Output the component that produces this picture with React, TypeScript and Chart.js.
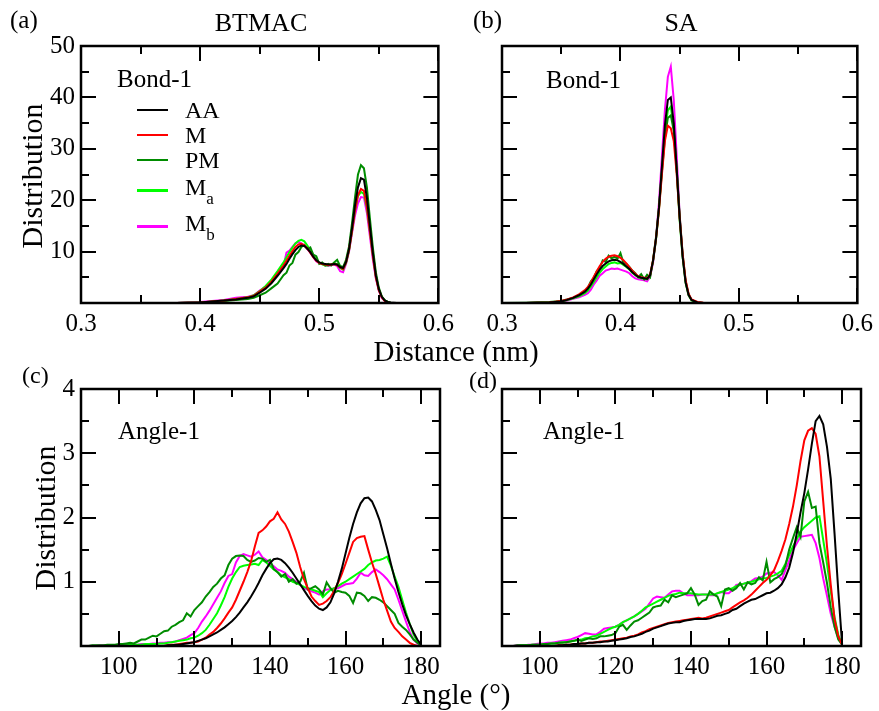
import React, { useEffect, useRef } from "react";
import { Chart, registerables } from "chart.js";

Chart.register(...registerables);

// ---------------- data ----------------
const seriesNames = ["AA", "M", "PM", "Ma", "Mb"];
const seriesColors = ["#000000", "#ff0000", "#008c00", "#00ff00", "#ff00ff"];
const legendMain = ["AA", "M", "PM", "M", "M"];
const legendSub = ["", "", "", "a", "b"];

// (a) BTMAC, Bond-1 : distance (nm)
const bondBtmacX = [0.30, 0.32, 0.34, 0.36, 0.38, 0.40, 0.41, 0.42, 0.43, 0.44, 0.445, 0.45, 0.455, 0.46, 0.465,
  0.47, 0.4725, 0.475, 0.4775, 0.48, 0.4825, 0.485, 0.4875, 0.49, 0.4925, 0.495, 0.4975, 0.50, 0.5025, 0.505,
  0.5075, 0.51, 0.5125, 0.515, 0.5175, 0.52, 0.5225, 0.525, 0.5275, 0.53, 0.5325, 0.535, 0.5375, 0.54, 0.5425,
  0.545, 0.5475, 0.55, 0.5525, 0.555, 0.5575, 0.56, 0.565, 0.57, 0.575, 0.58];
const bondBtmacAA = [0, 0, 0, 0, 0, 0.1, 0.3, 0.5, 0.7, 1.0, 1.3, 2.0, 2.8, 3.9, 5.3,
  6.8, 7.6, 8.6, 9.5, 10.3, 10.9, 11.2, 11.1, 10.6, 9.9, 9.0, 8.3, 7.9, 7.7, 7.6,
  7.5, 7.5, 7.6, 7.5, 7.0, 6.8, 8.0, 10.5, 14.5, 19.0, 22.5, 24.3, 24.0, 20.5, 15.0,
  9.8, 5.4, 2.7, 1.2, 0.5, 0.2, 0.1, 0, 0, 0, 0];
const bondBtmacM = [0, 0, 0, 0, 0, 0.1, 0.3, 0.5, 0.8, 1.1, 1.4, 2.2, 3.0, 4.2, 5.7,
  7.3, 8.2, 9.2, 10.1, 10.9, 11.4, 11.5, 11.2, 10.6, 9.8, 8.9, 8.2, 7.8, 7.6, 7.5,
  7.4, 7.5, 7.6, 7.4, 6.9, 6.6, 7.9, 10.3, 14.0, 18.0, 21.0, 22.2, 21.8, 18.8, 14.0,
  9.2, 5.0, 2.5, 1.1, 0.4, 0.1, 0, 0, 0, 0, 0];
const bondBtmacPM = [0, 0, 0, 0, 0, 0.1, 0.2, 0.4, 0.6, 0.8, 1.0, 1.5, 2.0, 2.9, 3.8,
  5.4, 5.9, 7.3, 7.8, 9.4, 9.9, 10.9, 11.3, 10.5, 10.8, 9.4, 9.1, 7.6, 7.9, 7.3,
  7.6, 7.3, 7.9, 8.4, 7.2, 7.0, 8.4, 11.0, 15.5, 20.5, 25.0, 26.8, 26.2, 22.5, 16.5,
  10.8, 6.0, 3.0, 1.3, 0.5, 0.2, 0, 0, 0, 0, 0];
const bondBtmacMa = [0, 0, 0, 0, 0, 0.1, 0.3, 0.5, 0.8, 1.1, 1.5, 2.3, 3.3, 4.6, 6.2,
  7.9, 8.9, 9.9, 10.8, 11.6, 12.1, 12.3, 12.0, 11.2, 10.2, 9.2, 8.4, 7.8, 7.5, 7.3,
  7.3, 7.5, 7.7, 7.6, 6.8, 6.5, 7.8, 10.2, 14.0, 18.0, 20.8, 21.6, 21.2, 18.5, 14.0,
  9.3, 5.2, 2.6, 1.2, 0.5, 0.2, 0, 0, 0, 0, 0];
const bondBtmacMb = [0, 0, 0, 0, 0, 0.2, 0.4, 0.6, 1.0, 1.2, 1.5, 2.4, 3.2, 4.3, 6.0,
  7.2, 9.8, 10.2, 10.9, 11.6, 11.9, 11.6, 11.2, 10.5, 9.8, 8.9, 8.1, 7.7, 7.6, 7.4,
  7.2, 7.4, 7.5, 7.2, 6.2, 6.0, 7.6, 10.0, 13.6, 17.0, 19.4, 20.6, 20.5, 17.5, 13.0,
  8.5, 4.8, 2.4, 1.0, 0.4, 0.1, 0, 0, 0, 0, 0];

// (b) SA, Bond-1 : distance (nm)
const bondSaX = [0.30, 0.32, 0.34, 0.35, 0.355, 0.36, 0.365, 0.37, 0.3725, 0.375,
  0.3775, 0.38, 0.3825, 0.385, 0.3875, 0.39, 0.3925, 0.395, 0.3975, 0.40,
  0.4025, 0.405, 0.4075, 0.41, 0.4125, 0.415, 0.4175, 0.42, 0.4225, 0.425,
  0.4275, 0.43, 0.4325, 0.435, 0.4375, 0.44, 0.4425, 0.445, 0.4475, 0.45,
  0.4525, 0.455, 0.4575, 0.46, 0.465, 0.47, 0.48];
const bondSaAA = [0, 0, 0.1, 0.3, 0.6, 1.0, 1.5, 2.2, 2.8, 3.6,
  4.6, 5.6, 6.5, 7.2, 7.7, 8.1, 8.3, 8.4, 8.3, 8.0,
  7.6, 7.1, 6.6, 6.0, 5.5, 5.1, 4.9, 4.8, 4.7, 5.4,
  8.2, 12.5, 18.5, 26.5, 34.5, 39.5, 40.0, 35.0, 26.0, 16.5,
  9.0, 4.0, 1.6, 0.6, 0.1, 0, 0];
const bondSaM = [0, 0, 0.1, 0.4, 0.7, 1.1, 1.7, 2.5, 3.1, 4.0,
  5.1, 6.2, 7.2, 8.0, 8.6, 9.0, 9.2, 9.3, 9.1, 8.8,
  8.3, 7.7, 7.0, 6.3, 5.7, 5.2, 5.0, 4.9, 4.8, 5.5,
  8.3, 12.5, 18.0, 25.0, 31.5, 34.5, 34.0, 31.5, 25.0, 16.5,
  9.5, 4.5, 1.8, 0.7, 0.2, 0.05, 0];
const bondSaPM = [0, 0.05, 0.2, 0.4, 0.7, 1.0, 1.6, 2.3, 3.0, 4.2,
  4.9, 6.2, 6.8, 8.3, 8.0, 9.2, 8.7, 9.0, 8.6, 9.7,
  7.8, 7.6, 7.0, 6.3, 5.8, 5.0, 5.6, 4.6, 5.5, 5.0,
  8.4, 12.8, 18.5, 25.5, 32.0, 36.0, 36.5, 33.5, 26.0, 17.0,
  9.5, 4.3, 1.7, 0.6, 0.1, 0, 0];
const bondSaMa = [0, 0, 0.1, 0.3, 0.6, 0.9, 1.3, 1.9, 2.4, 3.2,
  4.1, 5.0, 5.9, 6.6, 7.1, 7.6, 7.8, 7.9, 7.7, 7.8,
  7.4, 7.0, 6.5, 5.9, 5.4, 5.0, 4.8, 4.7, 4.6, 5.3,
  8.1, 12.3, 18.2, 26.0, 33.5, 37.5, 38.2, 34.0, 25.5, 16.0,
  8.8, 3.9, 1.5, 0.5, 0.1, 0, 0];
const bondSaMb = [0, 0, 0.1, 0.3, 0.5, 0.8, 1.1, 1.6, 1.9, 2.6,
  3.6, 4.4, 5.3, 5.8, 6.3, 6.5, 6.7, 6.6, 6.7, 6.5,
  6.3, 6.1, 5.8, 5.2, 4.8, 4.6, 4.5, 4.4, 4.2, 5.1,
  7.8, 12.5, 19.5, 28.5, 37.5, 44.0, 46.0, 39.5, 28.5, 17.0,
  9.0, 4.0, 1.5, 0.6, 0.1, 0, 0];

// (c)/(d) Angle-1 : angle (degrees)
const angleX = [90, 91, 92, 93, 94, 95, 96, 97, 98, 99,
  100, 101, 102, 103, 104, 105, 106, 107, 108, 109,
  110, 111, 112, 113, 114, 115, 116, 117, 118, 119,
  120, 121, 122, 123, 124, 125, 126, 127, 128, 129,
  130, 131, 132, 133, 134, 135, 136, 137, 138, 139,
  140, 141, 142, 143, 144, 145, 146, 147, 148, 149,
  150, 151, 152, 153, 154, 155, 156, 157, 158, 159,
  160, 161, 162, 163, 164, 165, 166, 167, 168, 169,
  170, 171, 172, 173, 174, 175, 176, 177, 178, 179,
  180];

// (c) BTMAC
const angleBtmacAA = [0, 0, 0, 0, 0, 0, 0, 0, 0, 0,
  0, 0, 0, 0, 0, 0, 0, 0, 0, 0,
  0, 0, 0, 0.01, 0.01, 0.02, 0.02, 0.03, 0.04, 0.05,
  0.06, 0.08, 0.1, 0.12, 0.15, 0.18, 0.21, 0.25, 0.29, 0.34,
  0.39, 0.45, 0.52, 0.6, 0.68, 0.77, 0.87, 0.98, 1.1, 1.2,
  1.29, 1.35, 1.36, 1.34, 1.29, 1.22, 1.14, 1.05, 0.96, 0.87,
  0.78, 0.7, 0.63, 0.58, 0.56, 0.6, 0.68, 0.82, 1.0, 1.2,
  1.44, 1.68, 1.9, 2.08, 2.22, 2.3, 2.31, 2.25, 2.12, 1.96,
  1.74, 1.52, 1.28, 1.05, 0.84, 0.65, 0.48, 0.34, 0.21, 0.1,
  0.02];
const angleBtmacM = [0, 0, 0, 0, 0, 0, 0, 0, 0, 0,
  0, 0, 0, 0, 0, 0, 0, 0, 0, 0,
  0, 0, 0, 0.01, 0.02, 0.02, 0.03, 0.04, 0.05, 0.05,
  0.06, 0.07, 0.1, 0.13, 0.18, 0.22, 0.28, 0.35, 0.43, 0.52,
  0.6, 0.72, 0.86, 1.0, 1.15, 1.32, 1.55, 1.76, 1.8, 1.86,
  1.94, 1.98, 2.08, 1.97, 1.9, 1.78, 1.62, 1.45, 1.23, 1.04,
  0.9, 0.77, 0.7, 0.64, 0.66, 0.7, 0.76, 0.86, 0.98, 1.12,
  1.28, 1.45, 1.62, 1.68, 1.7, 1.71, 1.5, 1.3, 1.12, 0.92,
  0.72, 0.55, 0.38, 0.28, 0.22, 0.15, 0.1, 0.05, 0.02, 0,
  0];
const angleBtmacPM = [0, 0, 0, 0.01, 0.01, 0.01, 0.01, 0.02, 0.02, 0.02,
  0.03, 0.03, 0.04, 0.05, 0.04, 0.07, 0.1, 0.1, 0.13, 0.16,
  0.15, 0.19, 0.23, 0.24, 0.3, 0.33, 0.37, 0.4, 0.51, 0.46,
  0.56, 0.62, 0.68, 0.77, 0.84, 0.92, 0.97, 1.05, 1.1, 1.26,
  1.36, 1.4, 1.41, 1.4, 1.34, 1.31, 1.33, 1.37, 1.36, 1.31,
  1.34, 1.2, 1.15, 1.08, 1.12, 1.0, 1.04, 0.97, 1.0, 1.14,
  0.88, 0.9, 0.93, 0.88, 0.8, 0.99, 0.9, 0.83, 0.86, 0.84,
  0.83, 0.78, 0.67, 0.83, 0.82, 0.78, 0.7, 0.76, 0.75, 0.72,
  0.68, 0.62, 0.56, 0.5, 0.36, 0.3, 0.25, 0.18, 0.1, 0.05,
  0.01];
const angleBtmacMa = [0, 0, 0, 0, 0, 0, 0, 0, 0.01, 0.01,
  0.01, 0.01, 0.01, 0.02, 0.02, 0.02, 0.02, 0.03, 0.03, 0.03,
  0.03, 0.04, 0.04, 0.05, 0.06, 0.07, 0.08, 0.09, 0.1, 0.12,
  0.13, 0.16, 0.2, 0.25, 0.33, 0.42, 0.51, 0.63, 0.76, 0.92,
  1.05, 1.15, 1.23, 1.25, 1.26, 1.27, 1.28, 1.26, 1.34, 1.3,
  1.25, 1.19, 1.15, 1.1, 1.07, 1.04, 1.0, 0.98, 0.95, 0.92,
  0.9, 0.88, 0.86, 0.84, 0.76, 0.82, 0.87, 0.9, 0.93, 0.97,
  1.0, 1.04, 1.08, 1.12, 1.16, 1.2, 1.26, 1.3, 1.33, 1.34,
  1.36, 1.39, 1.25, 1.08, 0.92, 0.72, 0.52, 0.34, 0.18, 0.07,
  0.02];
const angleBtmacMb = [0, 0, 0, 0, 0, 0.01, 0.01, 0.01, 0.01, 0.01,
  0.01, 0.01, 0.02, 0.02, 0.02, 0.02, 0.03, 0.03, 0.03, 0.04,
  0.04, 0.05, 0.05, 0.06, 0.06, 0.07, 0.09, 0.11, 0.13, 0.17,
  0.2, 0.28, 0.38, 0.46, 0.55, 0.65, 0.75, 0.85, 0.98, 1.09,
  1.12, 1.3, 1.4, 1.43, 1.41, 1.39, 1.42, 1.47, 1.38, 1.34,
  1.29, 1.24, 1.19, 1.17, 1.14, 1.08, 1.04, 1.0, 0.95, 0.9,
  0.88, 0.85, 0.83, 0.8, 0.85, 0.88, 0.88, 0.9, 0.9, 0.93,
  0.96, 0.97, 0.98, 1.05, 1.14, 1.1, 1.09, 1.15, 1.19, 1.15,
  1.1, 1.04, 0.96, 0.88, 0.72, 0.55, 0.38, 0.22, 0.1, 0.04,
  0.01];

// (d) SA
const angleSaAA = [0, 0, 0, 0, 0, 0, 0, 0, 0, 0,
  0, 0, 0, 0, 0, 0.01, 0.01, 0.02, 0.02, 0.03,
  0.03, 0.04, 0.04, 0.05, 0.05, 0.06, 0.06, 0.07, 0.07, 0.08,
  0.09, 0.1, 0.11, 0.12, 0.14, 0.15, 0.17, 0.19, 0.22, 0.24,
  0.27, 0.29, 0.31, 0.33, 0.35, 0.36, 0.37, 0.37, 0.39, 0.4,
  0.41, 0.42, 0.42, 0.42, 0.42, 0.43, 0.45, 0.47, 0.48, 0.5,
  0.52, 0.56, 0.58, 0.62, 0.66, 0.69, 0.72, 0.73, 0.76, 0.79,
  0.82, 0.83, 0.86, 0.9, 0.96, 1.07, 1.22, 1.45, 1.75, 2.08,
  2.38, 2.75, 3.15, 3.5, 3.58, 3.45, 3.1, 2.6, 1.75, 0.85,
  0.03];
const angleSaM = [0, 0, 0, 0, 0, 0, 0, 0, 0, 0,
  0, 0, 0, 0, 0, 0.01, 0.01, 0.02, 0.02, 0.03,
  0.03, 0.04, 0.04, 0.05, 0.05, 0.06, 0.07, 0.07, 0.08, 0.09,
  0.1, 0.11, 0.12, 0.13, 0.15, 0.16, 0.18, 0.21, 0.23, 0.26,
  0.28, 0.3, 0.32, 0.34, 0.36, 0.37, 0.38, 0.39, 0.4, 0.41,
  0.42, 0.43, 0.44, 0.43, 0.44, 0.46, 0.48, 0.5, 0.52, 0.54,
  0.56, 0.6, 0.64, 0.68, 0.71, 0.75, 0.8, 0.86, 0.92, 0.98,
  1.03, 1.1, 1.18, 1.32, 1.48, 1.66, 1.9, 2.17, 2.5, 2.88,
  3.2, 3.35, 3.39, 3.3, 2.95, 2.25, 1.55, 0.95, 0.42, 0.15,
  0.02];
const angleSaPM = [0, 0, 0, 0, 0.01, 0.01, 0.01, 0.01, 0.02, 0.02,
  0.02, 0.03, 0.03, 0.04, 0.04, 0.05, 0.05, 0.06, 0.07, 0.08,
  0.1, 0.08, 0.1, 0.12, 0.11, 0.12, 0.15, 0.15, 0.16, 0.17,
  0.2, 0.3, 0.33, 0.25, 0.32, 0.38, 0.4, 0.44, 0.48, 0.52,
  0.6, 0.62, 0.63, 0.72, 0.68, 0.79, 0.76, 0.78, 0.8, 0.82,
  0.9, 0.8, 0.64, 0.7, 0.72, 0.85, 0.8, 0.77, 0.62, 0.88,
  0.9, 0.86, 0.9, 0.98, 0.88, 0.99, 0.96, 0.98, 1.07, 1.02,
  1.31, 0.99, 1.04, 1.07, 1.12, 1.25, 1.5, 1.68, 1.85, 1.7,
  2.25, 2.4, 2.15, 2.17, 1.6, 1.3, 0.98, 0.6, 0.3, 0.1,
  0.02];
const angleSaMa = [0, 0, 0, 0, 0, 0.01, 0.01, 0.01, 0.02, 0.02,
  0.02, 0.03, 0.03, 0.04, 0.04, 0.05, 0.06, 0.06, 0.07, 0.08,
  0.09, 0.1, 0.12, 0.13, 0.15, 0.16, 0.19, 0.22, 0.25, 0.28,
  0.3, 0.33, 0.37, 0.4, 0.43, 0.46, 0.5, 0.55, 0.6, 0.63,
  0.66, 0.69, 0.72, 0.75, 0.78, 0.8, 0.81, 0.83, 0.82, 0.82,
  0.82, 0.81, 0.8, 0.8, 0.8, 0.8, 0.8, 0.82, 0.84, 0.86,
  0.88, 0.9, 0.93, 0.95, 0.97, 0.99, 1.0, 1.02, 1.04, 1.05,
  1.06, 1.08, 1.1, 1.13, 1.17, 1.28, 1.42, 1.55, 1.66, 1.78,
  1.85, 1.9, 1.95, 2.0, 2.02, 1.65, 1.28, 0.85, 0.45, 0.17,
  0.02];
const angleSaMb = [0, 0, 0, 0, 0.01, 0.01, 0.01, 0.02, 0.02, 0.03,
  0.04, 0.04, 0.05, 0.05, 0.06, 0.07, 0.08, 0.09, 0.1, 0.12,
  0.14, 0.17, 0.2, 0.19, 0.18, 0.18, 0.22, 0.27, 0.28, 0.29,
  0.3, 0.33, 0.37, 0.4, 0.43, 0.46, 0.5, 0.54, 0.58, 0.66,
  0.74, 0.77, 0.76, 0.75, 0.8, 0.85, 0.86, 0.86, 0.82, 0.79,
  0.79, 0.79, 0.79, 0.8, 0.8, 0.79, 0.79, 0.82, 0.84, 0.82,
  0.82, 0.87, 0.95, 0.96, 0.97, 0.99, 1.01, 1.05, 1.06, 1.08,
  1.13, 1.14, 1.15, 1.1, 1.03, 1.18, 1.33, 1.49, 1.6, 1.7,
  1.71, 1.72, 1.73, 1.6, 1.37, 1.05, 0.78, 0.5, 0.3, 0.12,
  0.02];

// axis ticks
const bondXTicks = [0.3, 0.4, 0.5, 0.6];
const bondXMinor = [0.35, 0.45, 0.55];
const bondYTicks = [10, 20, 30, 40, 50];
const bondYMinor = [5, 15, 25, 35, 45];
const angleXTicks = [100, 120, 140, 160, 180];
const angleXMinor = [110, 130, 150, 170];
const angleYTicks = [1, 2, 3, 4];
const angleYMinor = [0.5, 1.5, 2.5, 3.5];

// ---------------- layout / style ----------------
const FONT = "'Liberation Serif', 'Times New Roman', serif";

type Box = {
  left: number; top: number; width: number; height: number;
  yAxisWidth: number; padTop: number; padRight: number; xAxisHeight: number;
};

type PanelProps = {
  box: Box;
  xs: number[];
  ys: number[][];
  xMin: number; xMax: number; yMax: number;
  xTicks: number[]; xMinor: number[]; yTicks: number[]; yMinor: number[];
  showY: boolean; decimals: number;
};

function makeFramePlugin(xMajor: number[], xMinor: number[], yMajor: number[], yMinor: number[]) {
  return {
    id: "frameTicks",
    afterDatasetsDraw(chart: any) {
      const { ctx, chartArea } = chart;
      const { left, right, top, bottom } = chartArea;
      const sx = chart.scales.x;
      const sy = chart.scales.y;
      ctx.save();
      ctx.strokeStyle = "#000";
      ctx.lineWidth = 2;
      ctx.beginPath();
      const vt = (v: number, len: number) => {
        const p = Math.round(sx.getPixelForValue(v));
        ctx.moveTo(p, bottom); ctx.lineTo(p, bottom - len);
        ctx.moveTo(p, top); ctx.lineTo(p, top + len);
      };
      const ht = (v: number, len: number) => {
        const p = Math.round(sy.getPixelForValue(v));
        ctx.moveTo(left, p); ctx.lineTo(left + len, p);
        ctx.moveTo(right, p); ctx.lineTo(right - len, p);
      };
      xMajor.forEach((v) => vt(v, 15));
      xMinor.forEach((v) => vt(v, 8));
      yMajor.forEach((v) => ht(v, 15));
      yMinor.forEach((v) => ht(v, 8));
      ctx.stroke();
      ctx.lineWidth = 2.5;
      ctx.strokeRect(left, top, right - left, bottom - top);
      ctx.restore();
    },
  };
}

function Panel(p: PanelProps) {
  const ref = useRef<HTMLCanvasElement | null>(null);
  useEffect(() => {
    if (!ref.current) return;
    const datasets = p.ys.map((ys, si) => ({
      label: seriesNames[si],
      data: p.xs.map((x, i) => ({ x, y: ys[i] })),
      borderColor: seriesColors[si],
      backgroundColor: seriesColors[si],
      borderWidth: 2,
      pointRadius: 0,
      tension: 0,
      fill: false,
    }));
    const chart = new Chart(ref.current, {
      type: "line",
      data: { datasets },
      options: {
        responsive: false,
        animation: false,
        devicePixelRatio: 1,
        layout: { padding: { top: p.box.padTop, right: p.box.padRight, left: 0, bottom: 0 } },
        plugins: { legend: { display: false }, tooltip: { enabled: false } },
        scales: {
          x: {
            type: "linear",
            min: p.xMin,
            max: p.xMax,
            grid: { display: false, drawTicks: false },
            border: { display: false },
            ticks: {
              color: "#000",
              font: { family: FONT, size: 25 },
              padding: 6,
              maxRotation: 0,
              autoSkip: false,
              callback: (v: any) => Number(v).toFixed(p.decimals),
            },
            afterBuildTicks: (s: any) => { s.ticks = p.xTicks.map((v) => ({ value: v })); },
            afterFit: (s: any) => { s.height = p.box.xAxisHeight; },
          },
          y: {
            type: "linear",
            min: 0,
            max: p.yMax,
            grid: { display: false, drawTicks: false },
            border: { display: false },
            ticks: {
              display: p.showY,
              color: "#000",
              font: { family: FONT, size: 25 },
              padding: 6,
              autoSkip: false,
              callback: (v: any) => String(v),
            },
            afterBuildTicks: (s: any) => { s.ticks = p.yTicks.map((v) => ({ value: v })); },
            afterFit: (s: any) => { s.width = p.box.yAxisWidth; },
          },
        },
      },
      plugins: [makeFramePlugin(p.xTicks, p.xMinor, p.yTicks, p.yMinor)],
    } as any);
    return () => chart.destroy();
  }, []);
  const b = p.box;
  return (
    <canvas
      ref={ref}
      width={b.width}
      height={b.height}
      style={{ position: "absolute", left: b.left, top: b.top, width: b.width, height: b.height }}
    />
  );
}

const boxA: Box = { left: 0, top: 0, width: 460, height: 345, yAxisWidth: 81, padTop: 46, padRight: 20, xAxisHeight: 42 };
const boxB: Box = { left: 440, top: 0, width: 439, height: 345, yAxisWidth: 62, padTop: 46, padRight: 18, xAxisHeight: 42 };
const boxC: Box = { left: 0, top: 345, width: 460, height: 366, yAxisWidth: 81, padTop: 44, padRight: 20, xAxisHeight: 65 };
const boxD: Box = { left: 440, top: 345, width: 439, height: 366, yAxisWidth: 62, padTop: 44, padRight: 18, xAxisHeight: 65 };

function Txt(props: { x: number; y: number; size: number; children: any; center?: boolean; w?: number }) {
  const w = props.w ?? 240;
  return (
    <div
      style={{
        position: "absolute",
        left: props.center ? props.x - w / 2 : props.x,
        top: props.y,
        width: props.center ? w : undefined,
        textAlign: props.center ? "center" : "left",
        fontFamily: FONT,
        fontSize: props.size,
        lineHeight: 1,
        color: "#000",
        whiteSpace: "nowrap",
      }}
    >
      {props.children}
    </div>
  );
}

function VTxt(props: { cx: number; cy: number; size: number; children: any }) {
  const w = 220;
  return (
    <div
      style={{
        position: "absolute",
        left: props.cx - w / 2,
        top: props.cy - props.size / 2,
        width: w,
        height: props.size,
        textAlign: "center",
        fontFamily: FONT,
        fontSize: props.size,
        lineHeight: 1,
        color: "#000",
        whiteSpace: "nowrap",
        transform: "rotate(-90deg)",
      }}
    >
      {props.children}
    </div>
  );
}

const legendLineY = [110, 135, 160, 190.5, 226.5];
const legendTextTop = [98.4, 123.4, 148.4, 174.9, 211.4];

export default function App() {
  return (
    <div style={{ position: "absolute", left: 0, top: 0, width: 879, height: 711, background: "#fff", overflow: "hidden" }}>
      <Panel box={boxA} xs={bondBtmacX} ys={[bondBtmacAA, bondBtmacM, bondBtmacPM, bondBtmacMa, bondBtmacMb]}
        xMin={0.3} xMax={0.6} yMax={50} xTicks={bondXTicks} xMinor={bondXMinor} yTicks={bondYTicks} yMinor={bondYMinor}
        showY={true} decimals={1} />
      <Panel box={boxB} xs={bondSaX} ys={[bondSaAA, bondSaM, bondSaPM, bondSaMa, bondSaMb]}
        xMin={0.3} xMax={0.6} yMax={50} xTicks={bondXTicks} xMinor={bondXMinor} yTicks={bondYTicks} yMinor={bondYMinor}
        showY={false} decimals={1} />
      <Panel box={boxC} xs={angleX} ys={[angleBtmacAA, angleBtmacM, angleBtmacPM, angleBtmacMa, angleBtmacMb]}
        xMin={90} xMax={185} yMax={4} xTicks={angleXTicks} xMinor={angleXMinor} yTicks={angleYTicks} yMinor={angleYMinor}
        showY={true} decimals={0} />
      <Panel box={boxD} xs={angleX} ys={[angleSaAA, angleSaM, angleSaPM, angleSaMa, angleSaMb]}
        xMin={90} xMax={185} yMax={4} xTicks={angleXTicks} xMinor={angleXMinor} yTicks={angleYTicks} yMinor={angleYMinor}
        showY={false} decimals={0} />

      <Txt x={10} y={6.6} size={25}>(a)</Txt>
      <Txt x={261} y={10.2} size={26} center>BTMAC</Txt>
      <Txt x={473} y={6.6} size={25}>(b)</Txt>
      <Txt x={681} y={10.2} size={26} center>SA</Txt>
      <Txt x={117} y={66} size={25}>Bond-1</Txt>
      <Txt x={546} y={66.5} size={25}>Bond-1</Txt>

      {legendMain.map((m, i) => (
        <React.Fragment key={i}>
          <div style={{ position: "absolute", left: 137, top: legendLineY[i] - 1.25, width: 31, height: 2.5, background: seriesColors[i] }} />
          <Txt x={185} y={legendTextTop[i]} size={24}>
            {m}
            {legendSub[i] ? <span style={{ fontSize: 17, position: "relative", top: 9 }}>{legendSub[i]}</span> : null}
          </Txt>
        </React.Fragment>
      ))}

      <VTxt cx={31.6} cy={176} size={30}>Distribution</VTxt>
      <Txt x={456} y={336.6} size={29} center w={300}>Distance (nm)</Txt>

      <Txt x={22} y={363} size={24}>(c)</Txt>
      <Txt x={469} y={368} size={24}>(d)</Txt>
      <Txt x={118} y={417.6} size={25}>Angle-1</Txt>
      <Txt x={543} y={417.6} size={25}>Angle-1</Txt>
      <VTxt cx={44.9} cy={517.5} size={30}>Distribution</VTxt>
      <Txt x={456} y={680} size={29} center w={300}>Angle (°)</Txt>
    </div>
  );
}
